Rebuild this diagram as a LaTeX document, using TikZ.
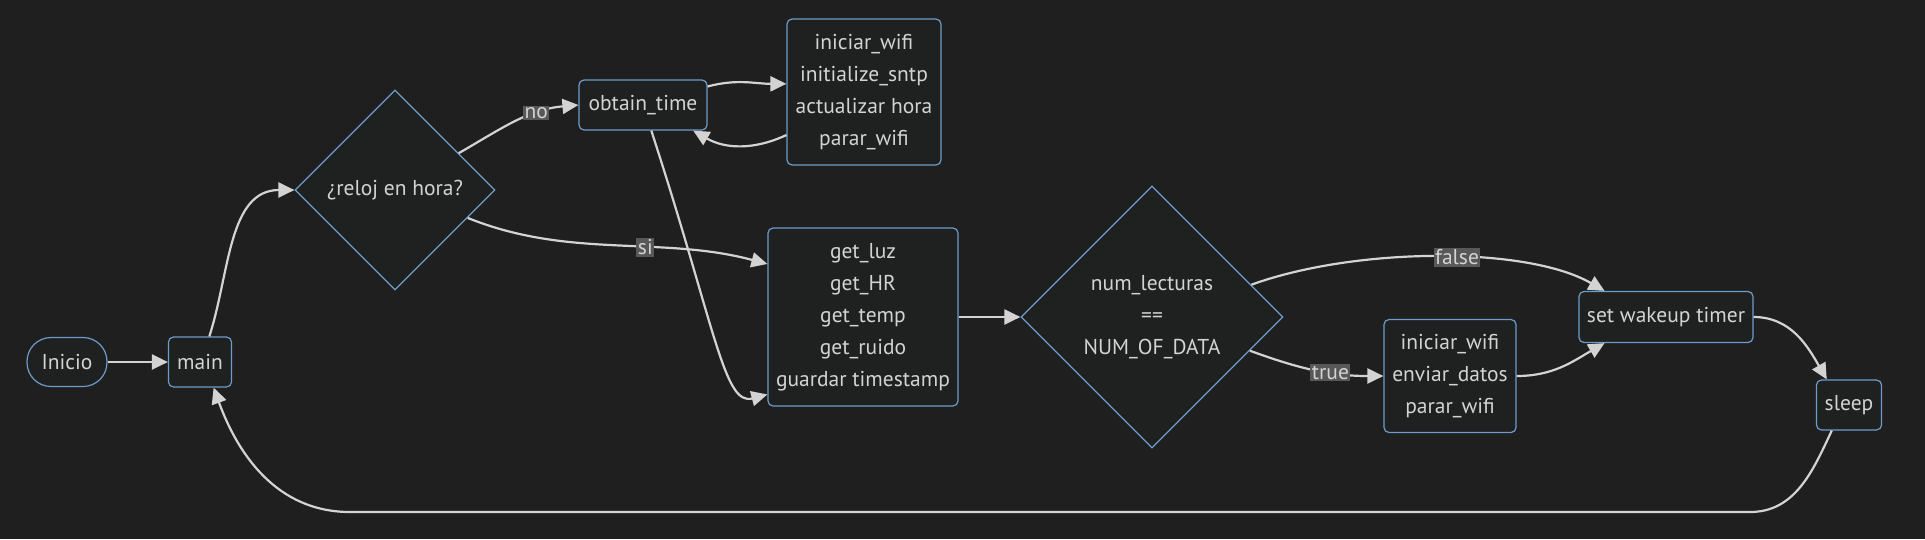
\documentclass[tikz,border=0pt]{standalone}
\usepackage{fontspec}
\setmainfont{PT Sans}
\usetikzlibrary{shapes.geometric,arrows.meta}
\definecolor{fondo}{HTML}{1F1F1F}
\definecolor{relleno}{HTML}{1F2020}
\definecolor{borde}{HTML}{6E9CC9}
\definecolor{linea}{HTML}{D3D3D3}
\definecolor{texto}{HTML}{D3D3D3}
\definecolor{etiq}{HTML}{585858}

\begin{document}
\begin{tikzpicture}[x=1pt, y=1pt,
    font=\fontsize{21.5}{32}\selectfont,
    caja/.style ={draw=borde, line width=1.2pt, fill=relleno, text=texto,
                  rounded corners=5pt, inner sep=0pt, align=center},
    inicio/.style ={caja, rounded corners=24pt},
    decision/.style ={diamond, draw=borde, line width=1.2pt, fill=relleno,
                  text=texto, inner sep=0pt, align=center},
    etiqueta/.style ={fill=etiq, text=texto, inner sep=1.5pt},
    flecha/.style ={draw=linea, line width=2.2pt,
                  -{Triangle[length=16pt,width=15pt]}}]
   \fill[fondo] (0,0) rectangle (1925,-539);
   \useasboundingbox (0,0) rectangle (1925,-539);
   % nodos
   \node[inicio, minimum width=80, minimum height=49] (inicio) at (67,-362) {Inicio};
   \node[caja, minimum width=63, minimum height=50] (main) at (200,-362) {main};
   \node[decision, minimum width=200, minimum height=200] (reloj) at (395,-190) {¿reloj en hora?};
   \node[caja, minimum width=128, minimum height=50] (obtain) at (643,-105) {obtain\_time};
   \node[caja, minimum width=154, minimum height=146] (sntp) at (864,-92)
        {iniciar\_wifi\\initialize\_sntp\\actualizar hora\\parar\_wifi};
   \node[caja, minimum width=190, minimum height=178] (sensores) at (863,-317)
        {get\_luz\\get\_HR\\get\_temp\\get\_ruido\\guardar timestamp};
   \node[decision, minimum width=262, minimum height=262] (lecturas) at (1152,-317)
        {num\_lecturas\\==\\NUM\_OF\_DATA};
   \node[caja, minimum width=132, minimum height=113] (envio) at (1450,-376)
        {iniciar\_wifi\\enviar\_datos\\parar\_wifi};
   \node[caja, minimum width=174, minimum height=51] (timer) at (1666,-317) {set wakeup timer};
   \node[caja, minimum width=65, minimum height=50] (sleep) at (1849,-405) {sleep};
   \coordinate (vueltaR) at (1750,-512);
   \coordinate (vueltaL) at (350,-512);
   % conexiones
   \draw[flecha] (inicio) to (main);
   \draw[flecha] (main.70) to[out=72, in=180] (reloj.west);
   \draw[flecha] (reloj.30) to[out=30, in=185] node[etiqueta, pos=0.68] {no} (obtain.west);
   \draw[flecha] (reloj.-21) .. controls +(-22:110) and +(165:110) .. node[etiqueta, pos=0.6] {si} (sensores.151);
   \draw[flecha] (obtain.16) to[out=15, in=180] (sntp.174);
   \draw[flecha] (sntp.209) to[out=205, in=-30] (obtain.-27);
   \draw[flecha] (obtain.-72) .. controls +(-72:210) and +(195:45) .. (sensores.219);
   \draw[flecha] (sensores) to (lecturas);
   \draw[flecha] (lecturas.18) .. controls +(20:110) and +(150:90) .. node[etiqueta, pos=0.55] {false} (timer.157);
   \draw[flecha] (lecturas.-19) to[out=-20, in=180] node[etiqueta, pos=0.62] {true} (envio.west);
   \draw[flecha] (envio.east) to[out=0, in=-150] (timer.-157);
   \draw[flecha] (timer.east) to[out=0, in=120] (sleep.131);
   \draw[flecha] (sleep.236) to[out=-115, in=0] (vueltaR) -- (vueltaL) to[out=180, in=-70] (main.-62);
 \end{tikzpicture}
\end{document}
